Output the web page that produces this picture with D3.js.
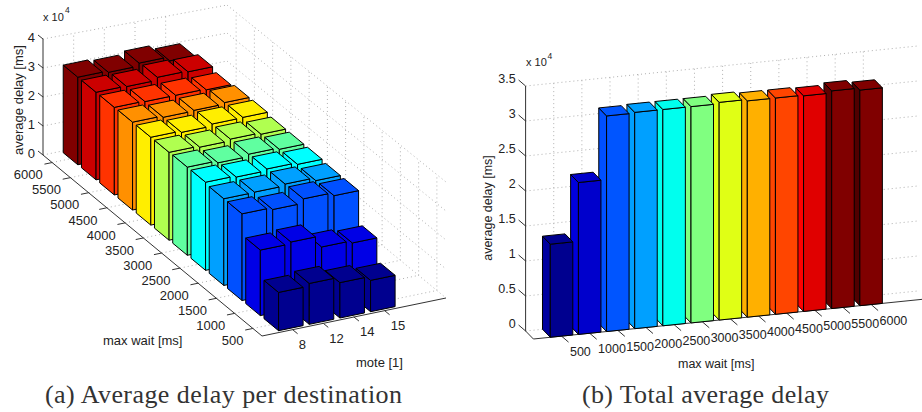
<!DOCTYPE html>
<html>
<head>
<meta charset="utf-8">
<style>
  body { margin: 0; background: #fff; }
  svg { display: block; font-family: "Liberation Sans", sans-serif; fill: #222; }
  .grid { fill: none; stroke: #b0b0b0; stroke-width: 1; stroke-dasharray: 1 3; }
  .axis { fill: none; stroke: #333; stroke-width: 1; }
  .face { stroke: #000; stroke-width: 1; stroke-linejoin: round; }
  .caption { font-family: "Liberation Serif", serif; font-size: 26px; fill: #333; }
</style>
</head>
<body>
<svg id="chart" width="922" height="412"></svg>
<script src="https://cdn.jsdelivr.net/npm/d3@7/dist/d3.min.js"></script>
<script>
  const waits = [500, 1000, 1500, 2000, 2500, 3000, 3500, 4000, 4500, 5000, 5500, 6000];
  const motes = [8, 12, 14, 15];

  // average delay per destination [ms], one list per mote, in order of waits
  const delayMote8 = [13200, 22600, 29900, 29900, 30400, 30400, 30300, 30300, 30300, 30200, 30200, 30200];
  const delayMote12 = [14100, 23200, 29200, 30000, 30000, 29700, 29900, 29800, 29800, 30000, 30000, 29700];
  const delayMote14 = [12200, 19300, 30700, 30600, 30600, 30500, 30500, 30500, 30000, 30000, 31000, 30700];
  const delayMote15 = [10800, 18500, 29600, 29600, 30000, 30000, 30000, 30600, 30500, 29700, 30700, 29300];
  const delayByMote = [delayMote8, delayMote12, delayMote14, delayMote15];

  // total average delay [ms], in order of waits
  const delayTotal = [13300, 21700, 30800, 30900, 30900, 30900, 31100, 30900, 30900, 30800, 31100, 30800];

  const ticksA = [0, 10000, 20000, 30000, 40000];
  const ticksB = [0, 5000, 10000, 15000, 20000, 25000, 30000, 35000];

  const coloursA = ["#00008f", "#0000e6", "#0050ff", "#00a0ff", "#00ffff", "#60ffa0", "#b0ff50", "#ffee00", "#ff9000", "#ff3300", "#cc0000", "#800000"];
  const coloursB = ["#00008f", "#0000cc", "#0055ff", "#00a0ff", "#00ffee", "#80ff80", "#e0ff15", "#ffb000", "#ff4500", "#e00000", "#800000", "#800000"];
  const sideB = ["#0000a0", "#0000dd", "#0050ff", "#00a0ff", "#00ffee", "#80ff80", "#e0ff15", "#ffb000", "#ff4500", "#ff0000", "#600000", "#500000"];

  const svg = d3.select("#chart");
  const poly = d3.line();

  // oblique projection: u along the x axis, v along the y axis, value upward.
  // pinch shrinks the height towards the far corner, the source has slight perspective
  function projection(origin, uEnd, vEnd, uMax, vMax, zMax, zPx, pinch = 0) {
    const ux = d3.scaleLinear([0, uMax], [0, uEnd[0] - origin[0]]);
    const uy = d3.scaleLinear([0, uMax], [0, uEnd[1] - origin[1]]);
    const vx = d3.scaleLinear([0, vMax], [0, vEnd[0] - origin[0]]);
    const vy = d3.scaleLinear([0, vMax], [0, vEnd[1] - origin[1]]);
    const z = d3.scaleLinear([0, zMax], [0, zPx]);
    return (u, v, val = 0) => [
      origin[0] + ux(u) + vx(v),
      origin[1] + uy(u) + vy(v) - z(val) * (1 - (pinch * u * v) / (uMax * vMax)),
    ];
  }

  function drawBars(g, bars, p) {
    g.selectAll("g.bar")
      .data(bars)
      .join("g")
      .attr("class", "bar")
      .each(function (d) {
        const b = d3.select(this);
        const a = [d.u0, d.v0], c = [d.u1, d.v0], e = [d.u1, d.v1], f = [d.u0, d.v1];
        const up = (q) => p(q[0], q[1], d.value);
        const down = (q) => p(q[0], q[1], 0);
        b.append("path").attr("class", "face").attr("fill", d.side)
          .attr("d", poly([down(f), down(a), up(a), up(f)]) + "Z");
        b.append("path").attr("class", "face").attr("fill", d.colour)
          .attr("d", poly([down(a), down(c), up(c), up(a)]) + "Z");
        b.append("path").attr("class", "face").attr("fill", d.colour)
          .attr("d", poly([up(a), up(c), up(e), up(f)]) + "Z");
      });
  }

  function segments(g, cls, segs) {
    g.append("g").selectAll("path").data(segs).join("path")
      .attr("class", cls)
      .attr("d", (s) => poly(s));
  }

  function labels(g, rows, size, anchor) {
    g.append("g").selectAll("text").data(rows).join("text")
      .attr("x", (r) => r.x)
      .attr("y", (r) => r.y)
      .attr("dy", "0.35em")
      .attr("text-anchor", anchor)
      .attr("font-size", size)
      .text((r) => r.text);
  }

  function note(g, x, y, sx, sy) {
    g.append("text").attr("x", x).attr("y", y).attr("dy", "0.35em").attr("font-size", 11).text("x 10");
    g.append("text").attr("x", sx).attr("y", sy).attr("dy", "0.35em").attr("font-size", 8.5).text("4");
  }

  function yTitle(g, x, y, size) {
    g.append("text")
      .attr("transform", "translate(" + x + "," + y + ") rotate(-90)")
      .attr("text-anchor", "middle")
      .attr("dy", "0.35em")
      .attr("font-size", size)
      .text("average delay [ms]");
  }

  /* ── (a) average delay per destination ── */
  function chartA() {
    const g = svg.append("g");
    const uMax = 6, vMax = 12, zMax = 40000;
    const p = projection([262, 336], [446, 298], [43, 155], uMax, vMax, zMax, 116);
    const pWall = projection([262, 336], [446, 298], [43, 155], uMax, vMax, zMax, 116, 0.035);
    const uOf = d3.scalePoint().domain(motes).range([1, 4]);
    const vOf = d3.scalePoint().domain(waits).range([0.5, 11.5]);
    const hw = 0.4;

    // walls and floor
    const grid = [];
    ticksA.forEach((t) => {
      grid.push([pWall(0, vMax, t), pWall(uMax, vMax, t)]);
      grid.push([pWall(uMax, vMax, t), pWall(uMax, 0, t)]);
    });
    motes.forEach((m) => {
      grid.push([pWall(uOf(m), vMax, 0), pWall(uOf(m), vMax, zMax)]);
      grid.push([pWall(uOf(m), 0, 0), pWall(uOf(m), vMax, 0)]);
    });
    waits.forEach((w) => {
      grid.push([pWall(uMax, vOf(w), 0), pWall(uMax, vOf(w), zMax)]);
      grid.push([pWall(0, vOf(w), 0), pWall(uMax, vOf(w), 0)]);
    });
    segments(g, "grid", grid);

    // axes and ticks
    segments(g, "axis", [
      [p(0, vMax, 0), p(0, vMax, zMax)],
      [p(0, vMax, 0), p(0, 0, 0)],
      [p(0, 0, 0), p(uMax, 0, 0)],
    ]);
    segments(g, "axis", ticksA.map((t) => {
      const q = p(0, vMax, t);
      return [q, [q[0] - 5, q[1] - 4]];
    }));
    segments(g, "axis", waits.map((w) => [p(0, vOf(w)), p(-0.25, vOf(w))]));
    segments(g, "axis", motes.map((m) => [p(uOf(m), 0), p(uOf(m), -0.27)]));

    // bars, far ones first
    const bars = [];
    for (let j = waits.length - 1; j >= 0; j--) {
      for (let i = motes.length - 1; i >= 0; i--) {
        const u = uOf(motes[i]), v = vOf(waits[j]);
        bars.push({
          u0: u - hw, u1: u + hw, v0: v - hw, v1: v + hw,
          value: delayByMote[i][j], colour: coloursA[j], side: coloursA[j],
        });
      }
    }
    drawBars(g.append("g"), bars, p);

    // tick labels and titles
    labels(g, ticksA.map((t) => {
      const q = p(0, vMax, t);
      return { x: q[0] - 8, y: q[1] - 2, text: t / 10000 };
    }), 13, "end");
    labels(g, waits.map((w) => {
      const q = p(0, vOf(w));
      return { x: q[0] - 9.5, y: q[1] + 12.2, text: w };
    }), 13, "end");
    labels(g, motes.map((m) => {
      const q = p(uOf(m), 0);
      return { x: q[0] + 6, y: q[1] + 14.7, text: m };
    }), 13, "start");
    labels(g, [{ x: 103, y: 340, text: "max wait [ms]" }, { x: 356, y: 362.7, text: "mote [1]" }], 13, "start");
    note(g, 43, 16.7, 65, 10);
    yTitle(g, 18, 100, 13);
    g.append("text").attr("class", "caption").attr("x", 45).attr("y", 403)
      .attr("textLength", 357).text("(a) Average delay per destination");
  }

  /* ── (b) total average delay ── */
  function chartB() {
    const g = svg.append("g");
    const uMax = 14, zMax = 35000;
    const p = projection([533.4, 339], [533.4 + 394, 339 - 40.2], [525.6, 331], uMax, 1, zMax, 245);
    const uOf = d3.scalePoint().domain(waits).range([1, 12]);
    const hw = 0.4;

    const grid = [];
    ticksB.forEach((t) => grid.push([p(0, 1, t), p(uMax, 1, t)]));
    waits.forEach((w) => {
      grid.push([p(uOf(w), 1, 0), p(uOf(w), 1, zMax)]);
      grid.push([p(uOf(w), 0, 0), p(uOf(w), 1, 0)]);
    });
    segments(g, "grid", grid);

    segments(g, "axis", [
      [p(0, 1, 0), p(0, 1, zMax)],
      [p(0, 1, 0), p(0, 0, 0)],
      [p(0, 0, 0), p(uMax, 0, 0)],
    ]);
    segments(g, "axis", ticksB.map((t) => {
      const q = p(0, 1, t);
      return [q, [q[0] - 7, q[1] - 6]];
    }));
    segments(g, "axis", waits.map((w) => {
      const q = p(uOf(w), 0);
      return [q, [q[0] + 7, q[1] + 6]];
    }));

    const bars = [];
    for (let j = waits.length - 1; j >= 0; j--) {
      const u = uOf(waits[j]);
      bars.push({
        u0: u - hw, u1: u + hw, v0: 0, v1: 1,
        value: delayTotal[j], colour: coloursB[j], side: sideB[j],
      });
    }
    drawBars(g.append("g"), bars, p);

    labels(g, ticksB.map((t) => {
      const q = p(0, 1, t);
      return { x: q[0] - 10, y: q[1] - 7, text: t / 10000 };
    }), 12.5, "end");
    labels(g, waits.map((w) => {
      const q = p(uOf(w), 0);
      return { x: q[0] + 8.4, y: q[1] + 15.8, text: w };
    }), 12.5, "start");
    labels(g, [{ x: 678, y: 364, text: "max wait [ms]" }], 12.5, "start");
    note(g, 526, 61.7, 547.5, 56);
    yTitle(g, 488, 208, 12.5);
    g.append("text").attr("class", "caption").attr("x", 582).attr("y", 403)
      .attr("textLength", 247).text("(b) Total average delay");
  }

  chartA();
  chartB();
</script>
</body>
</html>
